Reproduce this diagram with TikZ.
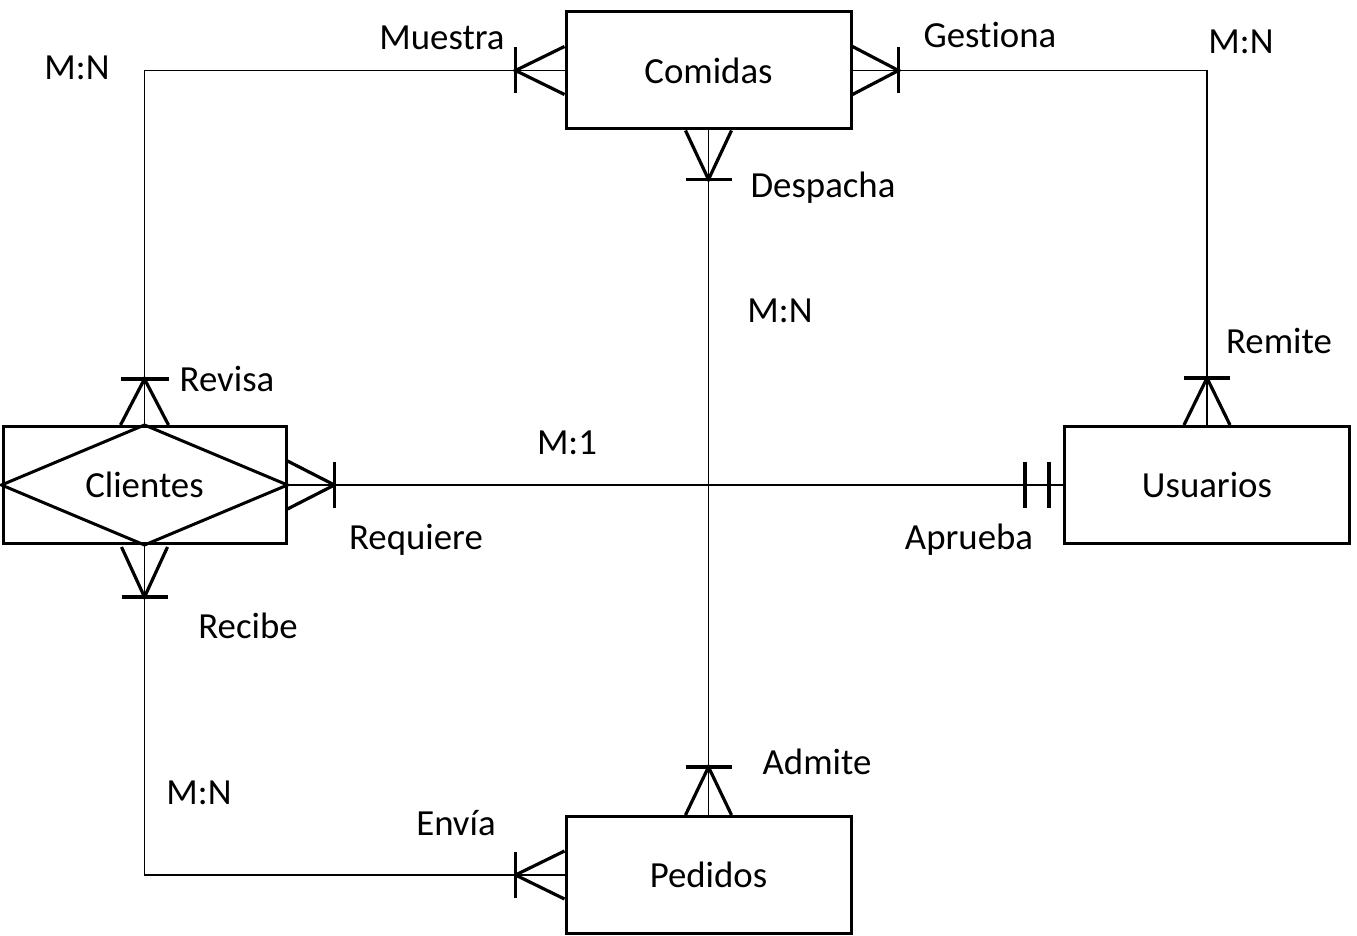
\documentclass[tikz,border=0pt]{standalone}
\usepackage{fontspec}
\setmainfont[Ligatures={NoCommon}]{Carlito}
\usetikzlibrary{calc}
\begin{document}
\begin{tikzpicture}[x=0.5pt,y=-0.5pt,
  ent/.style={draw,line width=1.5pt,minimum width=142.5pt,minimum height=58.5pt,inner sep=0pt,font=\fontsize{18.4}{22}\selectfont},
  conn/.style={line width=0.8pt},
  foot/.style={line width=1.6pt},
  lbl/.style={font=\fontsize{18.4}{22}\selectfont,inner sep=0pt,anchor=base}]
\useasboundingbox (0,0) rectangle (1357,936);
% entities
\node[ent] (com) at (708.5,70.5) {Comidas};
\node[ent] (usu) at (1207,485) {Usuarios};
\node[ent,minimum width=141.5pt] (cli) at (144.5,485) {Clientes};
\node[ent] (ped) at (708.5,875) {Pedidos};
\draw[line width=1.5pt] (cli.west) -- (cli.north) -- (cli.east) -- (cli.south) -- cycle;
% connectors
\draw[conn] (cli.north) |- (com.west);
\draw[conn] (com.east) -| (usu.north);
\draw[conn] (com.south) -- (ped.north);
\draw[conn] (cli.east) -- (usu.west);
\draw[conn] (cli.south) |- (ped.west);
% crow's feet: Comidas
\draw[foot] ($(com.west)+(-49,-23)$) -- ++(0,46);
\draw[foot] ($(com.west)+(0,-24)$) -- ($(com.west)+(-49,0)$) -- ($(com.west)+(0,24)$);
\draw[foot] ($(com.east)+(46,-23)$) -- ++(0,46);
\draw[foot] ($(com.east)+(0,-24)$) -- ($(com.east)+(46,0)$) -- ($(com.east)+(0,24)$);
\draw[foot] ($(com.south)+(-23,49)$) -- ++(46,0);
\draw[foot] ($(com.south)+(-23,0)$) -- ($(com.south)+(0,49)$) -- ($(com.south)+(23,0)$);
% Pedidos
\draw[foot] ($(ped.north)+(-23,-48)$) -- ++(46,0);
\draw[foot] ($(ped.north)+(-23,0)$) -- ($(ped.north)+(0,-48)$) -- ($(ped.north)+(23,0)$);
\draw[foot] ($(ped.west)+(-49,-23)$) -- ++(0,46);
\draw[foot] ($(ped.west)+(0,-24)$) -- ($(ped.west)+(-49,0)$) -- ($(ped.west)+(0,24)$);
% Clientes
\draw[foot] ($(cli.north)+(-24,-46)$) -- ++(48,0);
\draw[foot] ($(cli.north)+(-24,0)$) -- ($(cli.north)+(0,-46)$) -- ($(cli.north)+(24,0)$);
\draw[foot] ($(cli.east)+(47,-23)$) -- ++(0,46);
\draw[foot] ($(cli.east)+(0,-24)$) -- ($(cli.east)+(47,0)$) -- ($(cli.east)+(0,24)$);
\draw[foot] ($(cli.south)+(-23,52)$) -- ++(46,0);
\draw[foot] ($(cli.south)+(-23,2)$) -- ($(cli.south)+(0,52)$) -- ($(cli.south)+(23,2)$);
% Usuarios
\draw[foot] ($(usu.north)+(-23,-47)$) -- ++(46,0);
\draw[foot] ($(usu.north)+(-23,0)$) -- ($(usu.north)+(0,-47)$) -- ($(usu.north)+(23,0)$);
\draw[foot] ($(usu.west)+(-38,-23)$) -- ++(0,46);
\draw[foot] ($(usu.west)+(-14,-23)$) -- ++(0,46);
% labels
\node[lbl] (l1) at (442,50) {Muestra};
\node[lbl] (l2) at (990,48) {Gestiona};
\node[lbl] (l3) at (77,80) {M:N};
\node[lbl] (l4) at (1241,54) {M:N};
\node[lbl] (l5) at (823,198) {Despacha};
\node[lbl] (l6) at (780,323) {M:N};
\node[lbl] (l7) at (1279,354) {Remite};
\node[lbl] (l8) at (227,392) {Revisa};
\node[lbl] (l9) at (567,455) {M:1};
\node[lbl] (l10) at (416,550) {Requiere};
\node[lbl] (l11) at (969,550) {Aprueba};
\node[lbl] (l12) at (248,639) {Recibe};
\node[lbl] (l13) at (817,775) {Admite};
\node[lbl] (l14) at (199,805) {M:N};
\node[lbl] (l15) at (456,835) {Envía};
\end{tikzpicture}
\end{document}
